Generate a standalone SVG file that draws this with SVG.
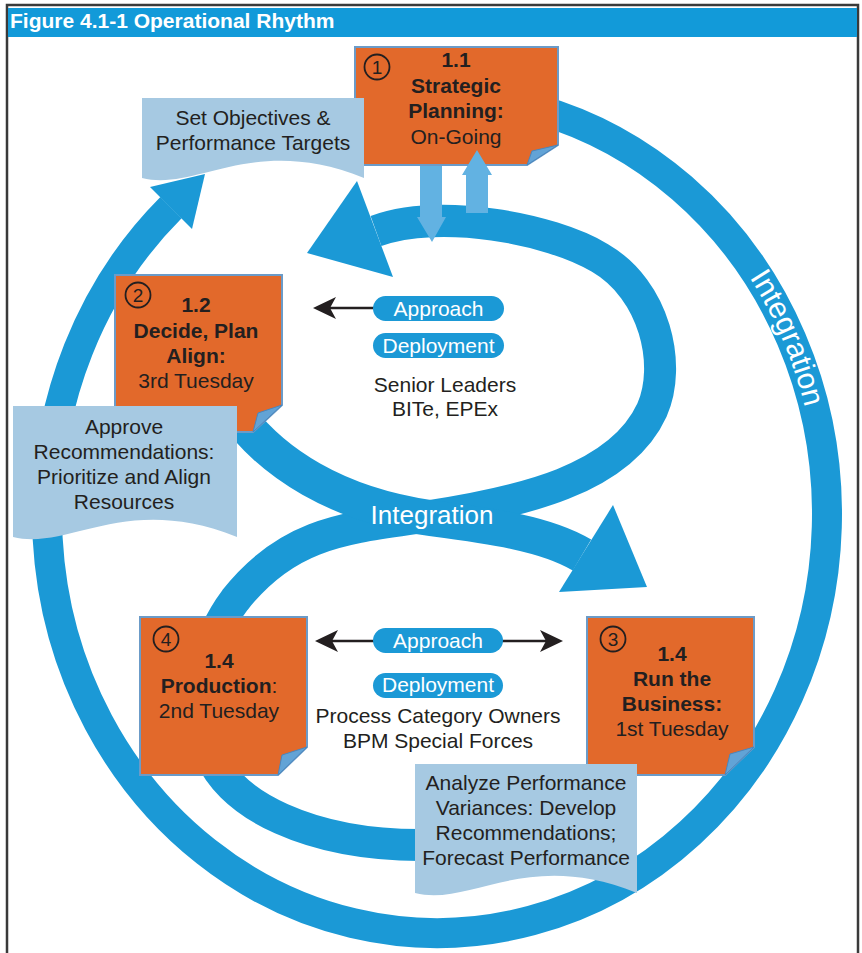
<svg xmlns="http://www.w3.org/2000/svg" width="862" height="953" viewBox="0 0 862 953">
  <defs>
    <style>
      .ring { fill: none; stroke: #1b99d6; }
      .head { fill: #1b99d6; }
      .box { fill: #e2692b; stroke: #6b9bc8; stroke-width: 2; }
      .fold { fill: #62a3d6; stroke: #4a86bd; stroke-width: 1; }
      .note { fill: #a6c9e2; }
      .tip { fill: #62b2e2; }
      .t { font-family: "Liberation Sans", Arial, sans-serif; font-size: 21px; fill: #231f20; text-anchor: middle; }
      .b { font-weight: bold; }
      .w { fill: #ffffff; }
      .num { fill: none; stroke: #231f20; stroke-width: 1.8; }
      .nt { font-family: "Liberation Sans", Arial, sans-serif; font-size: 19px; fill: #231f20; text-anchor: middle; }
      .pill { fill: #1b99d6; }
      .link { stroke: #231f20; stroke-width: 2.5; fill: none; }
      .ah { fill: #231f20; }
    </style>
    <path id="outerText" d="M 680,196 A 380 409 0 0 1 817,514" fill="none"/>
  </defs>

  <!-- frame and title -->
  <rect x="7" y="5" width="851" height="960" fill="#ffffff" stroke="#3a3a3a" stroke-width="2.5"/>
  <rect x="8" y="8" width="849" height="29" fill="#129ad9"/>
  <text x="10" y="28" font-family="Liberation Sans, Arial, sans-serif" font-size="21" font-weight="bold" fill="#ffffff">Figure 4.1-1 Operational Rhythm</text>

  <!-- connectors: cycle rings and arrows -->
  <g id="connectors">
    <!-- outer integration ring -->
    <path class="ring" stroke-width="30" d="M 537.9,109.3 A 390 419 0 1 1 171,207.6"/>
    <polygon class="head" points="150,187 192,229 205,174"/>
    <text font-family="Liberation Sans, Arial, sans-serif" font-size="30" fill="#ffffff">
      <textPath href="#outerText" startOffset="50%" text-anchor="middle">Integration</textPath>
    </text>

    <!-- lower loop into upper loop, ending at Decide/Plan -->
    <path class="ring" stroke-width="32" d="M 615,760 C 595,825 520,845 420,845 C 320,845 222,810 205,740 C 195,690 205,640 235,600 C 290,530 350,528 430,516 C 520,502 620,480 652,410 C 672,365 655,290 600,258 C 550,228 440,208 376,231"/>
    <polygon class="head" points="357,181 393,277 307,253"/>

    <!-- upper loop into Run the Business -->
    <path class="ring" stroke-width="36" d="M 230,405 C 270,465 340,505 430,518 C 490,526 545,533 582,555"/>
    <polygon class="head" points="613,505 559,592 647,587"/>

    <text class="t w" x="432" y="524" style="font-size:26px">Integration</text>

    <!-- approach links -->
    <line class="link" x1="374" y1="308" x2="328" y2="308"/>
    <polygon class="ah" points="313,308 336,297 330,308 336,319"/>
    <line class="link" x1="374" y1="641" x2="330" y2="641"/>
    <polygon class="ah" points="315,641 338,630 332,641 338,652"/>
    <line class="link" x1="502" y1="641" x2="548" y2="641"/>
    <polygon class="ah" points="563,641 540,630 546,641 540,652"/>
  </g>

  <!-- step 2 -->
  <g id="decide">
    <polygon class="box" points="115,275 282,275 282,405 253,432 115,432"/>
    <polygon class="fold" points="282,405 258,413 253,432"/>
    <circle class="num" cx="138" cy="295" r="12.5"/>
    <text class="nt" x="138" y="302">2</text>
    <text class="t b" x="196" y="312">1.2</text>
    <text class="t b" x="196" y="338">Decide, Plan</text>
    <text class="t b" x="196" y="363">Align:</text>
    <text class="t" x="196" y="388">3rd Tuesday</text>
  </g>

  <!-- step 4 -->
  <g id="production">
    <polygon class="box" points="140,617 307,617 307,747 278,775 140,775"/>
    <polygon class="fold" points="307,747 282,755 278,775"/>
    <circle class="num" cx="166" cy="639" r="12.5"/>
    <text class="nt" x="166" y="646">4</text>
    <text class="t b" x="219" y="668">1.4</text>
    <text class="t" x="219" y="693"><tspan class="b">Production</tspan>:</text>
    <text class="t" x="219" y="718">2nd Tuesday</text>
  </g>

  <!-- step 3 -->
  <g id="run">
    <polygon class="box" points="587,617 754,617 754,747 725,775 587,775"/>
    <polygon class="fold" points="754,747 730,754 725,775"/>
    <circle class="num" cx="613" cy="639" r="12.5"/>
    <text class="nt" x="613" y="646">3</text>
    <text class="t b" x="672" y="661">1.4</text>
    <text class="t b" x="672" y="686">Run the</text>
    <text class="t b" x="672" y="711">Business:</text>
    <text class="t" x="672" y="736">1st Tuesday</text>
  </g>

  <!-- step 1 -->
  <g id="strategic">
    <polygon class="box" points="355,47 558,47 558,145 527,165 355,165"/>
    <polygon class="fold" points="558,145 532,151 527,165"/>
    <circle class="num" cx="377" cy="67" r="12.5"/>
    <text class="nt" x="377" y="74">1</text>
    <text class="t b" x="456" y="67">1.1</text>
    <text class="t b" x="456" y="93">Strategic</text>
    <text class="t b" x="456" y="118">Planning:</text>
    <text class="t" x="456" y="144">On-Going</text>
  </g>

  <!-- exchange arrows between planning and the cycle -->
  <g id="exchange">
    <polygon class="tip" points="420,166 442,166 442,217 446,217 432,242 417,217 420,217"/>
    <polygon class="tip" points="466,213 488,213 488,175 492,175 477,150 462,175 466,175"/>
  </g>

  <!-- notes -->
  <g id="note-objectives">
    <path class="note" d="M 142,98 H 364 V 178 C 253,133 197,192 142,178 Z"/>
    <text class="t" x="253" y="125">Set Objectives &amp;</text>
    <text class="t" x="253" y="150">Performance Targets</text>
  </g>

  <g id="note-approve">
    <path class="note" d="M 13,406 H 237 V 537 C 125,492 69,551 13,537 Z"/>
    <text class="t" x="124" y="434">Approve</text>
    <text class="t" x="124" y="459">Recommendations:</text>
    <text class="t" x="124" y="484">Prioritize and Align</text>
    <text class="t" x="124" y="509">Resources</text>
  </g>

  <g id="note-analyze">
    <path class="note" d="M 415,764 H 637 V 893 C 526,848 471,907 415,893 Z"/>
    <text class="t" x="526" y="790">Analyze Performance</text>
    <text class="t" x="526" y="815">Variances: Develop</text>
    <text class="t" x="526" y="840">Recommendations;</text>
    <text class="t" x="526" y="865">Forecast Performance</text>
  </g>

  <!-- senior leader review -->
  <g id="senior">
    <rect class="pill" x="373" y="296" width="131" height="25" rx="12.5"/>
    <text class="t w" x="438.5" y="316">Approach</text>
    <rect class="pill" x="373" y="333" width="131" height="25" rx="12.5"/>
    <text class="t w" x="438.5" y="353">Deployment</text>
    <text class="t" x="445" y="392">Senior Leaders</text>
    <text class="t" x="445" y="416">BITe, EPEx</text>
  </g>

  <!-- process owner review -->
  <g id="owners">
    <rect class="pill" x="373" y="628" width="130" height="25" rx="12.5"/>
    <text class="t w" x="438" y="648">Approach</text>
    <rect class="pill" x="373" y="673" width="130" height="25" rx="12.5"/>
    <text class="t w" x="438" y="692">Deployment</text>
    <text class="t" x="438" y="723">Process Category Owners</text>
    <text class="t" x="438" y="748">BPM Special Forces</text>
  </g>
</svg>
